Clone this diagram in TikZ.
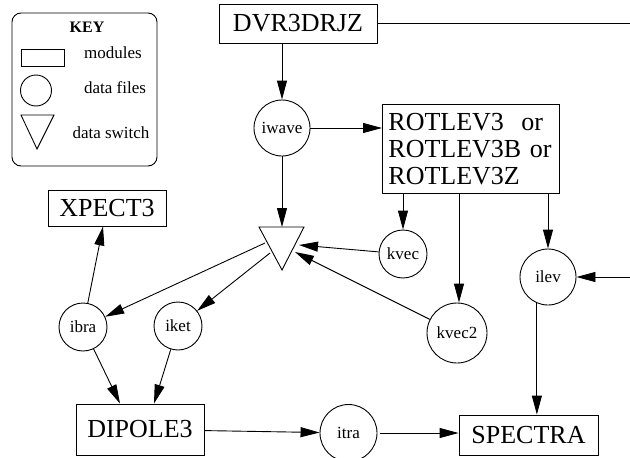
\documentclass[tikz,border=0pt]{standalone}
\usepackage{fontspec}
\setmainfont{Liberation Serif}
\usetikzlibrary{arrows.meta,calc}
\tikzset{
  mod/.style={draw,line width=0.9pt,rectangle,inner sep=0pt,font=\fontsize{26}{27}\selectfont},
  dat/.style={draw,line width=0.9pt,circle,inner sep=0pt,font=\fontsize{17}{18}\selectfont},
  conn/.style={line width=0.9pt,-{Triangle[length=19pt,width=10pt]}},
  plain/.style={line width=0.9pt},
  keytxt/.style={font=\fontsize{17}{18}\selectfont}
}
\begin{document}
\begin{tikzpicture}[x=1pt,y=-1pt]
\useasboundingbox (0,0) rectangle (630,458);
% key
\draw[plain,rounded corners=9pt] (12,13) rectangle (157,166);
\node[font=\fontsize{16}{17}\selectfont\bfseries] (keyt) at (87,27) {KEY};
\node[draw,line width=0.9pt,minimum width=43pt,minimum height=17pt,inner sep=0pt] (keybox) at (42.5,57.5) {};
\node[keytxt] (keym) at (113,53) {modules};
\node[draw,line width=0.9pt,circle,minimum size=31pt,inner sep=0pt] (keycirc) at (36,90.5) {};
\node[keytxt] (keyf) at (115,88) {data files};
\draw[plain] (21,115) -- (54,115) -- (37,149) -- cycle;
\node[keytxt] (keys) at (111,133) {data switch};
% modules
\node[mod,minimum width=158pt,minimum height=39pt] (DVR) at (298,23.5) {DVR3DRJZ};
\node[mod,anchor=north west,minimum height=89pt,text width=165pt,inner xsep=6pt,align=left] (ROT) at (382,104) {ROTLEV3\ \ or\\ROTLEV3B or\\ROTLEV3Z};
\node[mod,minimum width=118pt,minimum height=36pt] (XP) at (107,208) {XPECT3};
\node[mod,minimum width=128pt,minimum height=51pt] (DIP) at (140,429.5) {DIPOLE3};
\node[mod,minimum width=139pt,minimum height=40pt] (SPEC) at (528.5,435) {SPECTRA};
% data files
\node[dat,minimum size=56pt] (iwave) at (282,128) {iwave};
\node[dat,minimum size=48pt] (kvec) at (403,254) {kvec};
\node[dat,minimum size=60pt] (kvec2) at (457,333) {kvec2};
\node[dat,minimum size=56pt] (ilev) at (548,277) {ilev};
\node[dat,minimum size=57pt] (itra) at (348.5,433) {itra};
\node[dat,minimum size=48pt] (ibra) at (83,327) {ibra};
\node[dat,minimum size=48pt] (iket) at (178,326) {iket};
% data switch
\coordinate (tA) at (259,227);
\coordinate (tB) at (304,227);
\coordinate (tC) at (282,270);
\draw[plain] (tA) -- (tB) -- (tC) -- cycle;
\coordinate (ttop) at (282,227);
\coordinate (tink) at (299,245);
\coordinate (tink2) at (295,252);
\coordinate (toutb) at (265,243);
\coordinate (toutk) at (270,253);
% free ends
\coordinate (dvrout) at (630,0);
\coordinate (ilevin) at (630,277);
% connectors
\draw[plain] (DVR.east) -- (DVR.east -| dvrout);
\draw[conn] (DVR.south -| iwave) -- (iwave);
\draw[conn] (iwave) -- (iwave -| ROT.west);
\draw[conn] (iwave) -- (ttop);
\draw[conn] (ROT.south -| kvec) -- (kvec);
\draw[conn] (ROT.south -| 459,0) -- (kvec2.north -| 459,0);
\draw[conn] (ROT.south -| ilev) -- (ilev);
\draw[conn] (kvec) -- (tink);
\draw[conn] (kvec2) -- (tink2);
\draw[conn] (ilevin) -- (ilev);
\draw[conn] (ilev.247) -- (ilev.247 |- SPEC.north);
\draw[conn] (toutb) -- (ibra);
\draw[conn] (toutk) -- (iket);
\draw[conn] (ibra) -- ($(XP.south)+(-4,0)$);
\draw[conn] (ibra) -- ($(DIP.north)+(-20,0)$);
\draw[conn] (iket) -- ($(DIP.north)+(14,0)$);
\draw[conn] (DIP) -- (itra);
\draw[conn] ([xshift=3pt]itra.east) -- (SPEC.west |- itra);
\end{tikzpicture}
\end{document}
